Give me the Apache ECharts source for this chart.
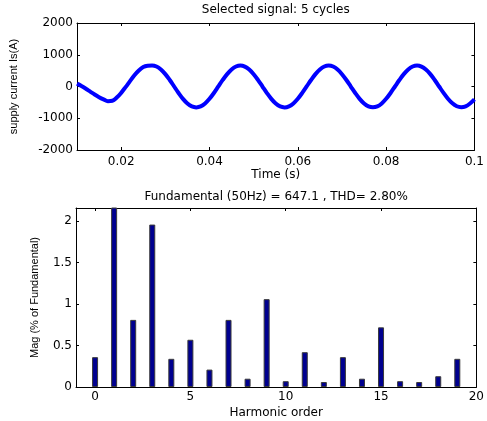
<!DOCTYPE html>
<html>
<head>
<meta charset="utf-8">
<script src="https://cdn.jsdelivr.net/npm/echarts@6/dist/echarts.min.js"></script>
<style>
  html, body { margin: 0; padding: 0; background: #fff; }
  #chart { width: 487px; height: 421px; }
</style>
</head>
<body>
<div id="chart"></div>
<script>
// Supply current, sampled every 1 ms (s)
const timeS = [
  0.010, 0.011, 0.012, 0.013, 0.014, 0.015, 0.016, 0.017, 0.018, 0.019,
  0.020, 0.021, 0.022, 0.023, 0.024, 0.025, 0.026, 0.027, 0.028, 0.029,
  0.030, 0.031, 0.032, 0.033, 0.034, 0.035, 0.036, 0.037, 0.038, 0.039,
  0.040, 0.041, 0.042, 0.043, 0.044, 0.045, 0.046, 0.047, 0.048, 0.049,
  0.050, 0.051, 0.052, 0.053, 0.054, 0.055, 0.056, 0.057, 0.058, 0.059,
  0.060, 0.061, 0.062, 0.063, 0.064, 0.065, 0.066, 0.067, 0.068, 0.069,
  0.070, 0.071, 0.072, 0.073, 0.074, 0.075, 0.076, 0.077, 0.078, 0.079,
  0.080, 0.081, 0.082, 0.083, 0.084, 0.085, 0.086, 0.087, 0.088, 0.089,
  0.090, 0.091, 0.092, 0.093, 0.094, 0.095, 0.096, 0.097, 0.098, 0.099,
  0.100
];
// Supply current Is (A)
const currentA = [
    90,   15,  -70, -160, -250, -335, -405, -462, -450, -350,
  -200,  -20,  170,  355,  505,  612,  655,  662,  630,  535,
   390,  205,    0, -205, -390, -535, -628, -658, -628, -535,
  -388, -204,    2,  206,  390,  535,  630,  662,  628,  533,
   388,  203,   -2, -206, -390, -536, -628, -658, -626, -534,
  -387, -203,    1,  205,  389,  535,  630,  661,  629,  534,
   388,  204,   -1, -205, -389, -535, -628, -657, -627, -533,
  -388, -204,    0,  204,  389,  534,  629,  662,  628,  534,
   389,  205,    0, -203, -386, -530, -622, -650, -625, -535,
  -405
];
const timeTicks = [0.02, 0.04, 0.06, 0.08, 0.1];
const currentTicks = [-2000, -1000, 0, 1000, 2000];

// FFT spectrum: harmonic magnitudes in % of the fundamental
const harmonicOrder = [0, 1, 2, 3, 4, 5, 6, 7, 8, 9, 10, 11, 12, 13, 14, 15, 16, 17, 18, 19];
const magPct = [0.36, 100, 0.81, 1.96, 0.34, 0.57, 0.21, 0.81, 0.10, 1.06,
                0.07, 0.42, 0.06, 0.36, 0.10, 0.72, 0.07, 0.06, 0.13, 0.34];
const orderTicks = [0, 5, 10, 15, 20];
const magTicks = [0, 0.5, 1, 1.5, 2];

const labelFont = { color: '#000', fontFamily: 'DejaVu Sans', fontSize: 12 };
const nameFontV = { color: '#000', fontFamily: 'Liberation Sans', fontSize: 11 };
const boxLine = { show: true, onZero: false, lineStyle: { color: '#000', width: 1 } };
const plain = v => String(parseFloat(Number(v).toFixed(3)));

function mainAxis(extra) {
  return Object.assign({
    type: 'value',
    axisLine: boxLine,
    splitLine: { show: false },
    nameTextStyle: Object.assign({}, labelFont),
  }, extra);
}
function frameAxis(extra) {
  return Object.assign({
    type: 'value',
    axisLine: boxLine,
    splitLine: { show: false },
    axisLabel: { show: false },
    nameTextStyle: Object.assign({}, labelFont),
  }, extra);
}
function ticks(values) {
  return { inside: true, length: 3, customValues: values, lineStyle: { color: '#000' } };
}
function labels(values, margin) {
  return Object.assign({ customValues: values, margin: margin, formatter: plain }, labelFont);
}

const option = {
  animation: false,
  backgroundColor: '#fff',
  grid: [
    { left: 76, top: 23, width: 401, height: 127 },
    { left: 76, top: 208, width: 406, height: 179 }
  ],
  xAxis: [
    mainAxis({
      gridIndex: 0, position: 'bottom', min: 0.01, max: 0.1,
      axisTick: ticks(timeTicks), axisLabel: labels(timeTicks, 6),
      name: 'Time (s)', nameLocation: 'middle', nameGap: 19
    }),
    frameAxis({
      gridIndex: 0, position: 'top', min: 0.01, max: 0.1,
      axisTick: ticks(timeTicks),
      name: 'Selected signal: 5 cycles', nameLocation: 'middle', nameGap: 7
    }),
    mainAxis({
      gridIndex: 1, position: 'bottom', min: -1, max: 20,
      axisTick: ticks(orderTicks), axisLabel: labels(orderTicks, 4),
      name: 'Harmonic order', nameLocation: 'middle', nameGap: 20
    }),
    frameAxis({
      gridIndex: 1, position: 'top', min: -1, max: 20,
      axisTick: ticks(orderTicks),
      name: 'Fundamental (50Hz) = 647.1 , THD= 2.80%', nameLocation: 'middle', nameGap: 5
    })
  ],
  yAxis: [
    mainAxis({
      gridIndex: 0, position: 'left', min: -2000, max: 2000,
      axisTick: ticks(currentTicks), axisLabel: labels(currentTicks, 4),
      name: 'supply current Is(A)', nameLocation: 'middle', nameRotate: 90, nameGap: 58,
      nameTextStyle: nameFontV
    }),
    frameAxis({
      gridIndex: 0, position: 'right', min: -2000, max: 2000,
      axisTick: ticks(currentTicks)
    }),
    mainAxis({
      gridIndex: 1, position: 'left', min: 0, max: 2.16,
      axisTick: ticks(magTicks), axisLabel: labels(magTicks, 4),
      name: 'Mag (% of Fundamental)', nameLocation: 'middle', nameRotate: 90, nameGap: 36,
      nameTextStyle: nameFontV
    }),
    frameAxis({
      gridIndex: 1, position: 'right', min: 0, max: 2.16,
      axisTick: ticks(magTicks)
    })
  ],
  series: [
    {
      type: 'line',
      xAxisIndex: 0, yAxisIndex: 0,
      data: timeS.map((t, i) => [t, currentA[i]]),
      showSymbol: false,
      smooth: 0.35,
      clip: true,
      lineStyle: { color: '#0000ff', width: 4 }
    },
    {
      type: 'bar',
      xAxisIndex: 2, yAxisIndex: 2,
      data: harmonicOrder.map((h, i) => [h, magPct[i]]),
      barWidth: 6,
      clip: true,
      itemStyle: { color: '#00008f', borderColor: '#3a3a3a', borderWidth: 1 }
    }
  ]
};

echarts.init(document.getElementById('chart'), null, { renderer: 'canvas' }).setOption(option);
</script>
</body>
</html>
